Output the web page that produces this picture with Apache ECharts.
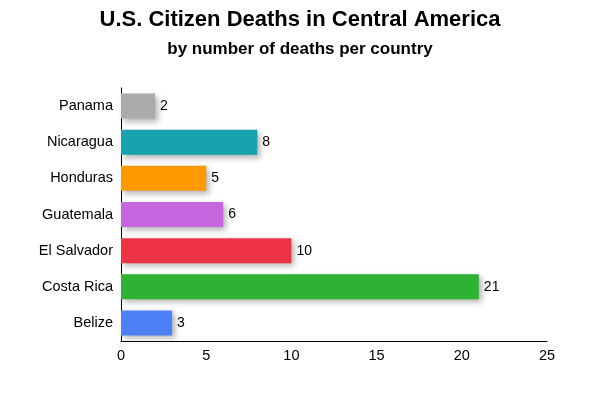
<!DOCTYPE html>
<html><head><meta charset="utf-8">
<script src="https://cdn.jsdelivr.net/npm/echarts@6/dist/echarts.min.js"></script>
<style>html,body{margin:0;padding:0;background:#fff}#c{width:600px;height:400px}</style>
</head><body><div id="c"></div>
<script>
const categories = ["Belize","Costa Rica","El Salvador","Guatemala","Honduras","Nicaragua","Panama"];
const deaths = [3,21,10,6,5,8,2];
const colors = ["#4d7ff5","#2db234","#ee3344","#c466dd","#ff9900","#17a2ae","#aaaaaa"];
const xTicks = [0,5,10,15,20,25];

const FONT = 'Liberation Sans, Arial, Helvetica';
const chart = echarts.init(document.getElementById('c'));
chart.setOption({
  backgroundColor:'#fff',
  animation:false,
  title:{
    text:'U.S. Citizen Deaths in Central America',
    subtext:'by number of deaths per country',
    left:'center', top:4, itemGap:10,
    textStyle:{fontFamily:FONT,fontWeight:'bold',fontSize:22,color:'#000'},
    subtextStyle:{fontFamily:FONT,fontWeight:'bold',fontSize:17,color:'#000'}
  },
  grid:{left:121,right:53,top:88,bottom:59},
  xAxis:{type:'value',min:xTicks[0],max:xTicks[xTicks.length-1],interval:5,
    axisLine:{show:true,lineStyle:{color:'#000',width:1}},
    axisTick:{show:false},splitLine:{show:false},
    axisLabel:{color:'#000',fontSize:14.5,fontFamily:FONT,margin:7}},
  yAxis:{type:'category',data:categories,
    axisLine:{show:true,lineStyle:{color:'#000',width:1}},
    axisTick:{show:false},
    axisLabel:{color:'#000',fontSize:14.5,fontFamily:FONT,margin:8}},
  series:[{type:'bar',barWidth:25,
    data:deaths.map((v,i)=>({value:v,itemStyle:{color:colors[i]}})),
    itemStyle:{shadowColor:'rgba(0,0,0,0.3)',shadowBlur:6,shadowOffsetX:3,shadowOffsetY:3},
    label:{show:true,position:'right',distance:5,color:'#000',fontSize:14,fontFamily:FONT}
  }]
});
</script></body></html>
